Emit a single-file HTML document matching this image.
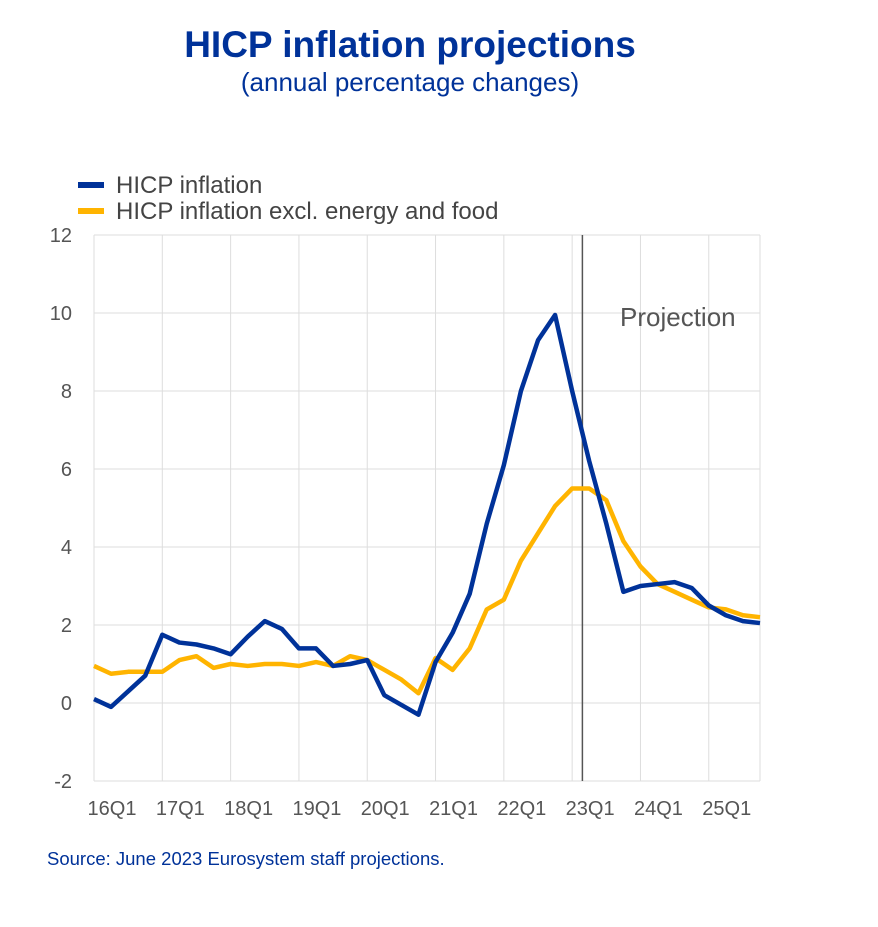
<!DOCTYPE html>
<html><head><meta charset="utf-8"><style>
body{margin:0;background:#fff;width:878px;height:922px;overflow:hidden;font-family:"Liberation Sans",Arial,sans-serif}
</style></head><body>
<svg id="chart" width="878" height="922" xmlns="http://www.w3.org/2000/svg">
<text x="410" y="57" text-anchor="middle" font-size="37" font-weight="bold" fill="#003299">HICP inflation projections</text>
<text x="410" y="91" text-anchor="middle" font-size="26" fill="#003299">(annual percentage changes)</text>
<g>
<line x1="78" y1="185" x2="104" y2="185" stroke="#003299" stroke-width="6"/>
<text x="116" y="193" font-size="24" fill="#444">HICP inflation</text>
<line x1="78" y1="211" x2="104" y2="211" stroke="#FFB400" stroke-width="6"/>
<text x="116" y="219" font-size="24" fill="#444">HICP inflation excl. energy and food</text>
</g>
<g id="grid"></g><g id="series"></g>
<text x="47" y="865" font-size="18.5" fill="#003299">Source: June 2023 Eurosystem staff projections.</text>
</svg>
<script>
const yTicks=[-2,0,2,4,6,8,10,12];
const xLabels=["16Q1","17Q1","18Q1","19Q1","20Q1","21Q1","22Q1","23Q1","24Q1","25Q1"];
const hicp=[0.1,-0.1,0.3,0.7,1.75,1.55,1.5,1.4,1.25,1.7,2.1,1.9,1.4,1.4,0.95,1.0,1.1,0.2,-0.05,-0.3,1.05,1.8,2.8,4.6,6.1,8.0,9.3,9.95,8.0,6.2,4.6,2.85,3.0,3.05,3.1,2.95,2.5,2.25,2.1,2.05];
const core=[0.95,0.75,0.8,0.8,0.8,1.1,1.2,0.9,1.0,0.95,1.0,1.0,0.95,1.05,0.95,1.2,1.1,0.85,0.6,0.25,1.15,0.85,1.4,2.4,2.65,3.65,4.35,5.05,5.5,5.5,5.2,4.15,3.5,3.05,2.85,2.65,2.45,2.4,2.25,2.2];
const projectionStart=28.6;
const NS="http://www.w3.org/2000/svg";
const X0=94,X1=760,Y0=235,Y1=781,nQ=40;
const xs=i=>X0+i*(X1-X0)/(nQ-1);
const ys=v=>Y1-(v-(-2))*(Y1-Y0)/14;
const grid=document.getElementById('grid'),ser=document.getElementById('series');
function mk(t,a,p){const e=document.createElementNS(NS,t);for(const k in a)e.setAttribute(k,a[k]);p.appendChild(e);return e;}
yTicks.forEach(v=>{
 const l=mk('line',{x1:X0,x2:X1,y1:ys(v),y2:ys(v),stroke:'#ddd','stroke-width':1},grid);
 
 
 const t=mk('text',{x:72,y:ys(v)+7,'text-anchor':'end','font-size':20,fill:'#555'},grid);t.textContent=v;
 
 
});
for(let i=0;i<=nQ;i+=4){const x=Math.min(xs(i),X1);
 const l=mk('line',{x1:x,x2:x,y1:Y0,y2:Y1,stroke:'#ddd','stroke-width':1},grid);
 
 }
xLabels.forEach((s,k)=>{const t=mk('text',{x:xs(k*4)+18,y:815,'text-anchor':'middle','font-size':20,fill:'#555'},grid);t.textContent=s;
 
 });
const pl=mk('line',{x1:xs(projectionStart),x2:xs(projectionStart),y1:Y0,y2:Y1,stroke:'#555','stroke-width':1.5},ser);


const pt=mk('text',{x:620,y:326,'font-size':26,fill:'#555'},ser);pt.textContent='Projection';


function line(d,c,name){const p=mk('polyline',{points:d.map((v,i)=>xs(i)+','+ys(v)).join(' '),fill:'none',stroke:c,'stroke-width':4.5,'stroke-linejoin':'round'},ser);
 
 }
line(core,'#FFB400','core-inflation-line');
line(hicp,'#003299','hicp-inflation-line');
</script>
</body></html>
